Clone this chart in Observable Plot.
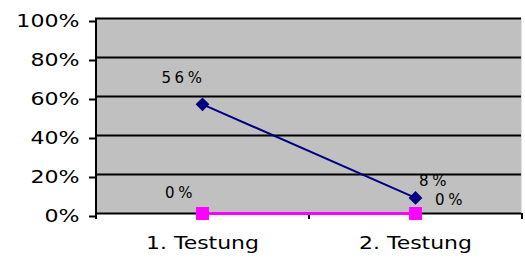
<!DOCTYPE html>
<html><head><meta charset="utf-8">
<script src="https://cdn.jsdelivr.net/npm/d3@7"></script>
<script src="https://cdn.jsdelivr.net/npm/@observablehq/plot@0.6"></script>
<style>
body{margin:0;background:#fff}
.chart g[aria-label="text"] text{letter-spacing:3.5px}
</style>
</head><body><div id="chart"></div>
<script>
const categories = ["1. Testung", "2. Testung"];
const seriesNavy = [0.56, 0.08];
const seriesMagenta = [0.00, 0.00];
const labelsNavy = ["56%", "8%"];
const labelsMagenta = ["0%", "0%"];
const yTicks = [0, 0.2, 0.4, 0.6, 0.8, 1];
const yTickLabels = ["0%", "20%", "40%", "60%", "80%", "100%"];

const W = 525, H = 259, mL = 95, mR = 4, mT = 18, mB = 46;
const step = (W - mL - mR) / categories.length;
const navy = categories.map((c, i) => ({x: c, y: seriesNavy[i], label: labelsNavy[i]}));
const magenta = categories.map((c, i) => ({x: c, y: seriesMagenta[i], label: labelsMagenta[i]}));

const txt = (d, dx, dy) => Plot.text([d], {x: "x", y: "y", text: "label", dx, dy, fontSize: 15, fill: "#000"});

const chart = Plot.plot({
  width: W, height: H,
  marginLeft: mL, marginRight: mR, marginTop: mT, marginBottom: mB,
  className: "chart",
  style: {fontFamily: "DejaVu Sans", background: "#fff", color: "#000"},
  x: {type: "point", domain: categories, padding: 0.5, axis: null},
  y: {domain: [0, 1], axis: null},
  marks: [
    Plot.frame({fill: "#c0c0c0", stroke: "none"}),
    Plot.ruleY(yTicks, {stroke: "#000", strokeWidth: 2}),
    Plot.ruleX([categories[0]], {dx: -step / 2, stroke: "#000", strokeWidth: 2, insetBottom: -6}),
    Plot.ruleX(categories, {dx: step / 2, y1: 0, y2: 0, stroke: "#000", strokeWidth: 2, insetBottom: -6}),
    Plot.axisY(yTicks, {tickSize: 6, tickPadding: 10, strokeWidth: 2, fontSize: 17, dy: 3, label: null,
      tickFormat: d => yTickLabels[yTicks.indexOf(d)]}),
    Plot.axisX({tickSize: 0, tickPadding: 23, fontSize: 18, label: null}),
    Plot.line(navy, {x: "x", y: "y", stroke: "#000080", strokeWidth: 2}),
    Plot.line(magenta, {x: "x", y: "y", stroke: "#ff00ff", strokeWidth: 3}),
    Plot.dot(navy, {x: "x", y: "y", symbol: "square", r: 5.5, rotate: 45, fill: "#000080", stroke: "none"}),
    Plot.dot(magenta, {x: "x", y: "y", symbol: "square", r: 7.3, fill: "#ff00ff", stroke: "none"}),
    txt(navy[0], -19, -26),
    txt(navy[1], 19, -17),
    txt(magenta[0], -22, -20),
    txt(magenta[1], 35, -13)
  ]
});
// widen axis glyphs horizontally, as in the reference
const widen = (sel, k) => d3.select(chart).selectAll(sel).each(function() {
  const t = this.getAttribute("transform") || "";
  this.setAttribute("transform", t + ` scale(${k},1)`);
});
widen('g[aria-label="y-axis tick label"] text', 1.3);
widen('g[aria-label="x-axis tick label"] text', 1.22);
document.getElementById("chart").appendChild(chart);
</script>
</body></html>
